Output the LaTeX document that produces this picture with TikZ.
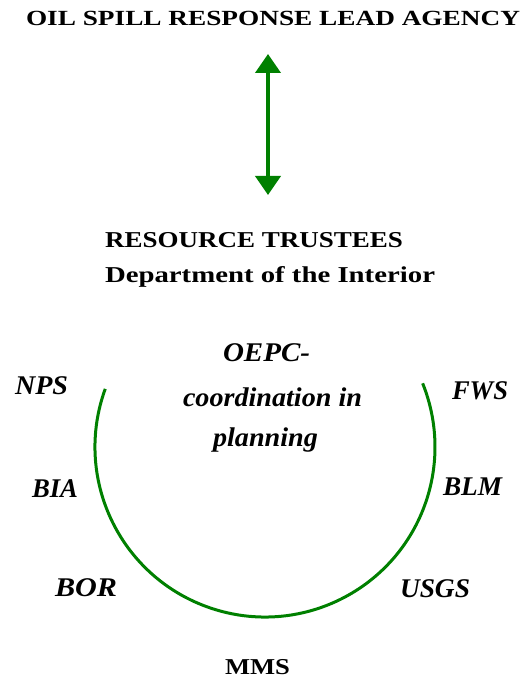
\documentclass[tikz,border=0pt]{standalone}
\usepackage{fontspec}
\setmainfont{Liberation Serif}
\usepackage{graphicx}
\usetikzlibrary{arrows.meta}
\definecolor{dgreen}{RGB}{0,128,0}
\newcommand{\fitw}[2]{\resizebox{#1}{\height}{#2}}
\begin{document}
\begin{tikzpicture}[x=1pt,y=1pt,
  lbl/.style={anchor=base west, inner sep=0pt, outer sep=0pt},
  itl/.style={lbl, font=\fontsize{27}{30}\selectfont\bfseries\itshape},
  rml/.style={lbl, font=\fontsize{22.7}{26}\selectfont\bfseries},
  ttl/.style={lbl, font=\fontsize{21.6}{24}\selectfont\bfseries},
  link/.style={dgreen, line width=4pt, {Triangle[width=25pt,length=19pt]}-{Triangle[width=25pt,length=19pt]}},
  ring/.style={dgreen, line width=3pt}]
\useasboundingbox (0,0) rectangle (523,681);
\node[ttl] (title) at (26,655) {\fitw{494pt}{OIL SPILL RESPONSE LEAD AGENCY}};
\coordinate (atop) at (268,627);
\coordinate (abot) at (268,486);
\draw[link] (atop) -- (abot);
\node[rml] (trustees) at (105,433) {\fitw{298pt}{RESOURCE TRUSTEES}};
\node[rml] (doi) at (105,398) {\fitw{330pt}{Department of the Interior}};
\node[itl] (oepc) at (223,319) {\fitw{87pt}{OEPC-}};
\node[itl] (coord) at (183,274) {\fitw{179pt}{coordination in}};
\node[itl] (plan) at (213,234) {\fitw{105pt}{planning}};
\node[itl] (nps) at (15,286) {\fitw{53pt}{NPS}};
\node[itl] (fws) at (452,281) {\fitw{56pt}{FWS}};
\node[itl] (bia) at (32,183) {\fitw{46pt}{BIA}};
\node[itl] (blm) at (443,185) {\fitw{59pt}{BLM}};
\node[itl] (bor) at (55,84) {\fitw{62pt}{BOR}};
\node[itl] (usgs) at (400,83) {\fitw{70pt}{USGS}};
\node[rml] (mms) at (225,6) {\fitw{65pt}{MMS}};
\coordinate (c) at (265,234);
\draw[ring] (c) ++(160:170) arc[start angle=160, end angle=382, radius=170];
\end{tikzpicture}
\end{document}
